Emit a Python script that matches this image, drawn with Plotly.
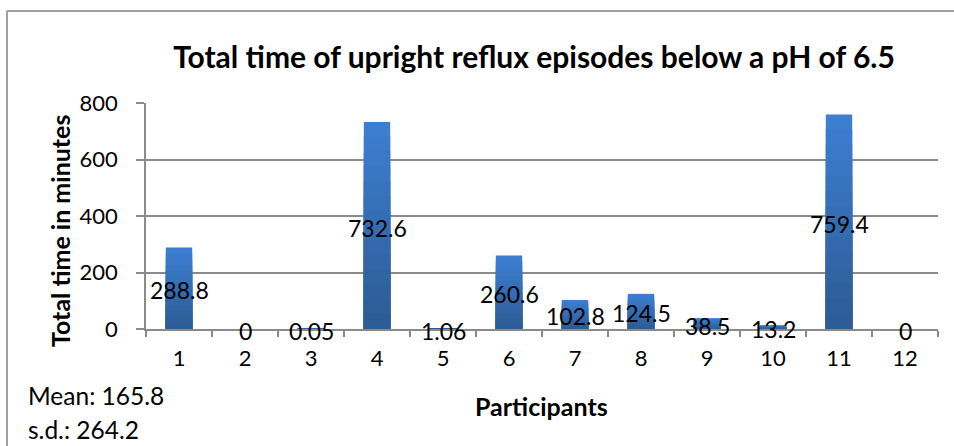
import plotly.graph_objects as go

participants = ["1", "2", "3", "4", "5", "6", "7", "8", "9", "10", "11", "12"]
total_minutes = [288.8, 0, 0.05, 732.6, 1.06, 260.6, 102.8, 124.5, 38.5, 13.2, 759.4, 0]
label_texts = ["288.8", "0", "0.05", "732.6", "1.06", "260.6", "102.8", "124.5", "38.5", "13.2", "759.4", "0"]
y_ticks = [0, 200, 400, 600, 800]

W, H = 954, 446
ML, MR, MT, MB = 146, 16, 103, 117
PW = W - ML - MR
PH = H - MT - MB


def px(x):
    return (x - ML) / PW


def py(y):
    return (H - MB - y) / PH


FONT = "Lato"
fig = go.Figure()

# gradient-looking bars: lighter at top, darker at bottom
top_rgb = (60, 126, 208)
bot_rgb = (45, 92, 150)
steps = 14
for i in range(steps):
    f = 1 - i / steps
    t = i / (steps - 1)
    c = tuple(round(top_rgb[k] + (bot_rgb[k] - top_rgb[k]) * t) for k in range(3))
    fig.add_trace(go.Bar(
        x=participants,
        y=[v * f for v in total_minutes],
        width=0.4,
        marker=dict(color="rgb(%d,%d,%d)" % c, line=dict(width=0)),
        hoverinfo="skip",
        showlegend=False,
    ))

grey = "#8a8a8a"

# data labels centred on each bar (category index positions)
label_annotations = [
    dict(x=idx, y=v / 2, xref="x", yref="y", text=txt, showarrow=False,
         yshift=-2, font=dict(family=FONT, size=23, color="black"),
         xanchor="center", yanchor="middle")
    for idx, (v, txt) in enumerate(zip(total_minutes, label_texts))
]

fig.update_layout(
    width=W, height=H,
    margin=dict(l=ML, r=MR, t=MT, b=MB),
    paper_bgcolor="white", plot_bgcolor="white",
    barmode="overlay",
    showlegend=False,
    font=dict(family=FONT, size=22, color="black"),
    xaxis=dict(
        type="category",
        categoryorder="array", categoryarray=participants,
        range=[-0.5, len(participants) - 0.5],
        showgrid=False,
        showline=True, linecolor=grey, linewidth=1.5,
        ticks="outside", tickson="boundaries", ticklen=6, tickcolor=grey, tickwidth=1.5,
        tickfont=dict(family=FONT, size=22, color="black"),
        ticklabelstandoff=9,
        fixedrange=True,
    ),
    yaxis=dict(
        range=[0, 800],
        tickvals=y_ticks,
        showgrid=True, gridcolor=grey, gridwidth=1.5,
        showline=True, linecolor=grey, linewidth=1.5,
        ticks="outside", ticklen=8, tickcolor=grey, tickwidth=1.5,
        tickfont=dict(family=FONT, size=22, color="black"),
        ticklabelstandoff=14,
        zeroline=False,
        fixedrange=True,
    ),
    title=dict(
        text="<b>Total time of upright reflux episodes below a pH of 6.5</b>",
        font=dict(family=FONT, size=30, color="black"),
        x=534 / W, xanchor="center", xref="container",
        y=1 - 57 / H, yanchor="middle", yref="container",
    ),
    annotations=label_annotations + [
        dict(text="<b>Total time in minutes</b>", textangle=-90,
             x=px(60), y=py(231), xref="paper", yref="paper",
             showarrow=False, font=dict(family=FONT, size=25, color="black"),
             xanchor="center", yanchor="middle"),
        dict(text="<b>Participants</b>",
             x=px(541), y=py(406), xref="paper", yref="paper",
             showarrow=False, font=dict(family=FONT, size=25, color="black"),
             xanchor="center", yanchor="middle"),
        dict(text="Mean: 165.8",
             x=px(26), y=py(395), xref="paper", yref="paper",
             showarrow=False, font=dict(family=FONT, size=24.5, color="black"),
             xanchor="left", yanchor="middle"),
        dict(text="s.d.: 264.2",
             x=px(26), y=py(429), xref="paper", yref="paper",
             showarrow=False, font=dict(family=FONT, size=24.5, color="black"),
             xanchor="left", yanchor="middle"),
    ],
    shapes=[
        dict(type="line", xref="paper", yref="paper",
             x0=px(7), x1=px(7), y0=py(11), y1=py(460),
             line=dict(color="#a0a0a0", width=2)),
        dict(type="line", xref="paper", yref="paper",
             x0=px(7), x1=px(970), y0=py(11), y1=py(11),
             line=dict(color="#a0a0a0", width=2)),
    ],
)

fig.write_html("out.html", config={"displayModeBar": False},
               post_script="document.body.style.margin='0';")
